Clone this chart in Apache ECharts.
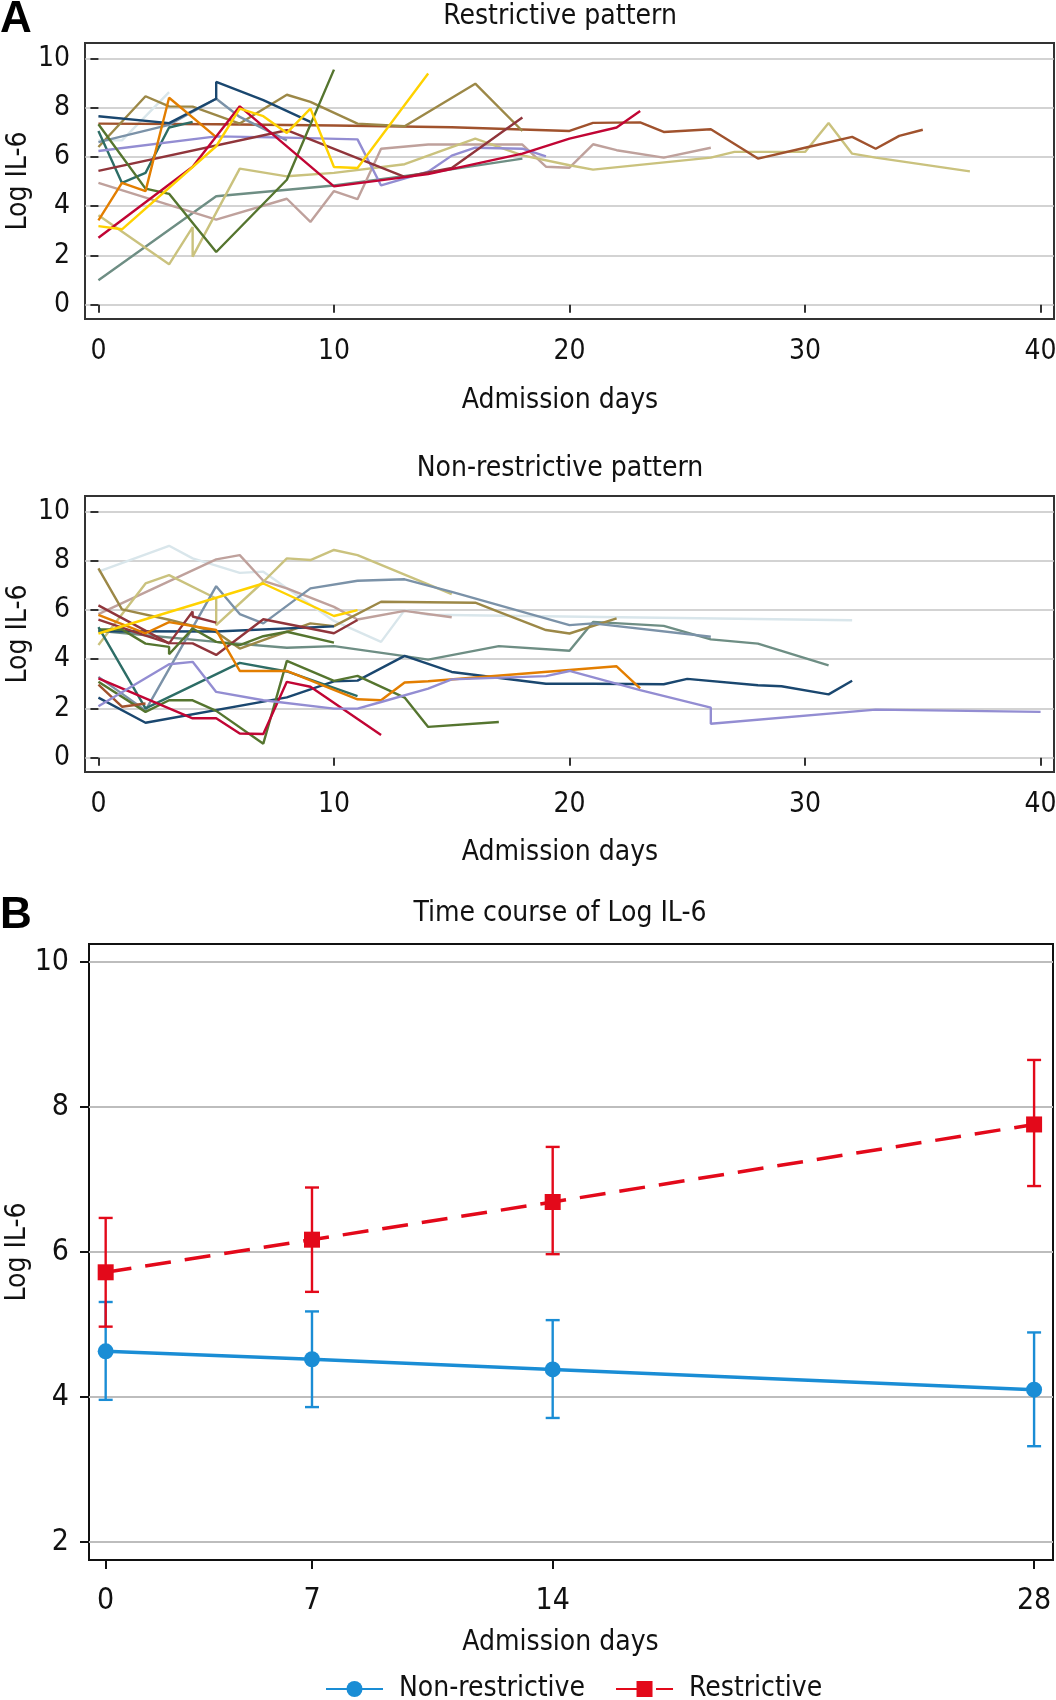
<!DOCTYPE html>
<html>
<head>
<meta charset="utf-8">
<script src="https://cdn.jsdelivr.net/npm/echarts@6/dist/echarts.min.js"></script>
<style>
html,body{margin:0;padding:0;background:#ffffff;}
#chart{width:1056px;height:1700px;}
</style>
</head>
<body>
<div id="chart"></div>
<script>
// ---------- tick labels ----------
const spaghettiDayTicks = [0, 10, 20, 30, 40];
const logTicksA = [0, 2, 4, 6, 8, 10];
const logTicksB = [2, 4, 6, 8, 10];
const visitDays = [1, 7, 14, 28];            // day at which each visit is plotted
const visitLabels = ['0', '7', '14', '28'];  // label shown for each visit

// ---------- Panel A: restrictive pattern, [admission day, log IL-6] ----------
const rNavy = [[0,7.65],[3,7.37],[5,8.36],[5,9.04],[7,8.3],[9,7.42]];
const rEmidblue = [[0,6.6],[3,7.3],[5,8.36],[6,7.62],[8,6.67]];
const rBrown = [[0,6.4],[2,8.46],[3,8.05],[4,8.04],[6,7.35],[8,8.52],[9,8.23],[11,7.35],[13,7.24],[16,8.97],[18,7.05]];
const rBluishgray = [[0,6.67],[1,6.67],[3,8.63]];
const rEmerald = [[0,7.05],[1,4.94],[2,5.35],[3,7.19],[4,7.42]];
const rOrange = [[0,3.42],[1,4.94],[2,4.61],[3,8.4],[5,6.8]];
const rSienna = [[0,7.35],[5,7.32],[10,7.27],[15,7.2],[20,7.05],[21,7.38],[23,7.4],[24,7.01],[26,7.12],[28,5.93],[30,6.37],[32,6.81],[33,6.33],[34,6.85],[35,7.1]];
const rLavender = [[0,6.24],[5,6.83],[8,6.78],[11,6.71],[12,4.84],[14,5.4],[15,6.05],[16,6.37],[18,6.33],[19,6.02]];
const rMaroon = [[0,5.43],[8,7.08],[13,5.19],[15,5.55],[18,7.6]];
const rCranberry = [[0,2.72],[4,5.6],[6,8.05],[10,4.8],[14,5.3],[18,6.13],[20,6.74],[22,7.19],[23,7.86]];
const rGold = [[0,3.19],[1,3.06],[5,6.43],[6,7.96],[7,7.65],[8,6.97],[9,7.96],[10,5.59],[11,5.55],[14,9.38]];
const rForest = [[0,7.32],[2,4.71],[3,4.5],[5,2.14],[8,5.07],[10,9.54]];
const rKhaki = [[0,3.63],[3,1.64],[4,3.15],[4,1.95],[6,5.52],[8,5.21],[10,5.35],[13,5.7],[16,6.74],[18,6.06],[20,5.66],[21,5.48],[26,5.97],[27,6.2],[30,6.2],[31,7.37],[32,6.13],[33,5.97],[37,5.41]];
const rErose = [[0,4.94],[5,3.45],[8,4.3],[9,3.36],[10,4.61],[11,4.28],[12,6.33],[14,6.5],[18,6.5],[19,5.6],[20,5.56],[21,6.51],[22,6.27],[24,5.97],[26,6.37]];
const rTeal = [[0,0.99],[5,4.4],[10,4.84],[14,5.35],[18,5.93]];

// ---------- Panel A: non-restrictive pattern ----------
const nBluishgray = [[0,7.55],[3,8.6],[4,8.09],[6,7.5],[7,7.55],[10,5.55],[12,4.7],[13,5.99],[14,5.8],[32,5.58]];
const nErose = [[0,5.83],[5,8.05],[6,8.22],[7,7.18],[8,6.87],[10,6.12],[11,5.61],[13,5.96],[15,5.7]];
const nKhaki = [[0,4.57],[2,7.07],[3,7.41],[5,6.46],[5,5.38],[7,7.14],[8,8.09],[9,8.02],[10,8.43],[11,8.22],[15,6.64]];
const nBrown = [[0,7.68],[1,6.02],[3,5.6],[5,5.1],[6,4.43],[7,4.77],[9,5.45],[10,5.34],[12,6.33],[16,6.29],[17,5.92],[19,5.18],[20,5.04],[22,5.65]];
const nGold = [[0,5.04],[7,7.07],[10,5.75],[11,5.99]];
const nEmidblue = [[0,3.28],[2,1.92],[5,6.96],[6,5.83],[7,5.45],[9,6.87],[11,7.18],[13,7.24],[15,6.73],[20,5.38],[21,5.45],[26,4.91]];
const nMaroon1 = [[0,6.18],[3,4.64],[4,5.93],[4,5.73],[5,5.48]];
const nMaroon2 = [[0,5.6],[2,4.95],[3,4.65],[4,4.64],[5,4.17],[7,5.62],[10,5.05],[11,5.59]];
const nNavy1 = [[0,5.13],[5,5.12],[10,5.33]];
const nNavy2 = [[0,2.44],[2,1.42],[8,2.45],[10,3.1],[11,3.13],[13,4.13],[15,3.48],[19,3.0],[21,3.0],[24,2.98],[25,3.2],[28,2.94],[29,2.9],[31,2.57],[32,3.12]];
const nForest1 = [[0,3.08],[2,1.86],[3,2.33],[4,2.33],[5,1.9],[7,0.57],[8,3.93],[10,3.12],[11,3.32],[13,2.44],[14,1.25],[17,1.45]];
const nForest2 = [[0,5.2],[1,5.2],[2,4.63],[3,4.5],[3,4.2],[4,5.24],[5,4.7],[6,4.57],[7,4.93],[8,5.11],[10,4.67]];
const nEmerald = [[0,5.3],[2,2.0],[6,3.85],[8,3.5],[11,2.5]];
const nOrange = [[0,5.8],[2,5.05],[3,5.5],[5,5.18],[6,3.52],[8,3.52],[11,2.37],[12,2.33],[13,3.05],[14,3.1],[22,3.71],[23,2.81]];
const nSienna = [[0,2.97],[1,2.07],[2,2.2]];
const nCranberry = [[0,3.22],[2,2.41],[4,1.6],[5,1.6],[6,0.98],[7,0.96],[8,3.08],[9,2.88],[12,0.92]];
const nLavender = [[0,2.09],[3,3.79],[4,3.89],[5,2.67],[7,2.33],[10,1.99],[11,1.99],[12,2.26],[14,2.8],[15,3.18],[19,3.31],[20,3.52],[23,2.74],[26,2.03],[26,1.38],[33,1.95],[40,1.86]];
const nTeal = [[0,5.15],[5,4.7],[8,4.46],[10,4.53],[13,4.12],[14,3.98],[17,4.53],[20,4.34],[21,5.51],[24,5.35],[26,4.8],[28,4.63],[31,3.75]];

// ---------- Panel B: time course (mean and 95% CI) ----------
const nonRestMean = [4.63, 4.52, 4.38, 4.10];
const nonRestLow  = [3.96, 3.86, 3.71, 3.32];
const nonRestHigh = [5.31, 5.18, 5.06, 4.89];
const restMean = [5.72, 6.17, 6.69, 7.76];
const restLow  = [4.97, 5.45, 5.97, 6.91];
const restHigh = [6.47, 6.89, 7.45, 8.65];

// ---------- styles ----------
const palette = {
  navy:'#1a476f', maroon:'#90353b', forest:'#55752f', dkorange:'#e37e00', teal:'#6e8e84',
  cranberry:'#c10534', lavender:'#938dd2', khaki:'#cac27e', sienna:'#a0522d', emidblue:'#7b92a8',
  emerald:'#2d6d66', brown:'#9c8847', erose:'#bfa19c', gold:'#ffd200', bluishgray:'#d9e6eb'
};
const FONT = '"DejaVu Sans Condensed","Liberation Sans Narrow","DejaVu Sans",sans-serif';
const TXT = '#111111';
const BLUE = '#1a8dd5';
const RED = '#e3091a';

const restrictiveSet = [
  ['bluishgray', rBluishgray], ['teal', rTeal], ['erose', rErose], ['khaki', rKhaki],
  ['sienna', rSienna], ['brown', rBrown], ['emidblue', rEmidblue], ['navy', rNavy],
  ['emerald', rEmerald], ['lavender', rLavender], ['maroon', rMaroon], ['forest', rForest],
  ['dkorange', rOrange], ['cranberry', rCranberry], ['gold', rGold]
];
const nonRestrictiveSet = [
  ['bluishgray', nBluishgray], ['teal', nTeal], ['erose', nErose], ['khaki', nKhaki],
  ['brown', nBrown], ['emidblue', nEmidblue], ['navy', nNavy1], ['navy', nNavy2],
  ['maroon', nMaroon1], ['maroon', nMaroon2], ['forest', nForest1], ['forest', nForest2],
  ['emerald', nEmerald], ['dkorange', nOrange], ['sienna', nSienna], ['cranberry', nCranberry],
  ['lavender', nLavender], ['gold', nGold]
];

function spaghetti(set, idx) {
  return set.map(([c, data]) => ({
    type: 'line', xAxisIndex: idx, yAxisIndex: idx, data: data,
    symbol: 'none', showSymbol: false, silent: true, z: 2,
    lineStyle: { width: 2.4, color: palette[c] }, itemStyle: { color: palette[c] }
  }));
}

function errorBars(lo, hi, color) {
  return {
    type: 'custom', xAxisIndex: 2, yAxisIndex: 2, silent: true, z: 3,
    data: visitDays.map((d, i) => [d, lo[i], hi[i]]),
    encode: { x: 0, y: [1, 2] },
    renderItem: function (params, api) {
      const x = api.value(0);
      const top = api.coord([x, api.value(2)]);
      const bot = api.coord([x, api.value(1)]);
      const hw = 7;
      const st = { stroke: color, lineWidth: 2.4 };
      return { type: 'group', children: [
        { type: 'line', shape: { x1: top[0], y1: top[1], x2: bot[0], y2: bot[1] }, style: st },
        { type: 'line', shape: { x1: top[0] - hw, y1: top[1], x2: top[0] + hw, y2: top[1] }, style: st },
        { type: 'line', shape: { x1: bot[0] - hw, y1: bot[1], x2: bot[0] + hw, y2: bot[1] }, style: st }
      ]};
    }
  };
}

function spaghettiX(idx, gap) {
  return {
    gridIndex: idx, type: 'value', min: -0.57, max: 40.57,
    axisLine: { show: false },
    axisTick: { show: true, inside: false, length: 8, lineStyle: { color: '#333', width: 2 }, customValues: spaghettiDayTicks },
    axisLabel: { customValues: spaghettiDayTicks, fontSize: 28, fontFamily: FONT, color: TXT, margin: 19 },
    splitLine: { show: false },
    name: 'Admission days', nameLocation: 'middle', nameGap: gap, nameMoveOverlap: false,
    nameTextStyle: { fontSize: 28, fontFamily: FONT, color: TXT, padding: [0, 19, 0, 0] }
  };
}
function spaghettiY(idx) {
  return {
    gridIndex: idx, type: 'value', min: -0.58, max: 10.62,
    axisLine: { show: false },
    axisTick: { show: true, inside: false, length: 8, lineStyle: { color: '#333', width: 2 }, customValues: logTicksA },
    axisLabel: { customValues: logTicksA, fontSize: 28, fontFamily: FONT, color: TXT, margin: 15 },
    splitLine: { show: true, lineStyle: { color: '#c4c4c4', width: 1.6 } },
    name: 'Log IL-6', nameLocation: 'middle', nameGap: 52, nameMoveOverlap: false,
    nameTextStyle: { fontSize: 28, fontFamily: FONT, color: TXT }
  };
}

const option = {
  animation: false,
  backgroundColor: '#ffffff',
  textStyle: { fontFamily: FONT },
  graphic: [
    { type: 'text', x: 0, y: 20, style: { text: 'A', fontSize: 44, fontWeight: 'bold', fontFamily: '"Liberation Sans",Arial,sans-serif', fill: '#000', align: 'left', verticalAlign: 'middle' } },
    { type: 'text', x: 560, y: 17, style: { text: 'Restrictive pattern', fontSize: 28, fontFamily: FONT, fill: TXT, align: 'center', verticalAlign: 'middle' } },
    { type: 'text', x: 560, y: 469, style: { text: 'Non-restrictive pattern', fontSize: 28, fontFamily: FONT, fill: TXT, align: 'center', verticalAlign: 'middle' } },
    { type: 'text', x: 0, y: 916, style: { text: 'B', fontSize: 44, fontWeight: 'bold', fontFamily: '"Liberation Sans",Arial,sans-serif', fill: '#000', align: 'left', verticalAlign: 'middle' } },
    { type: 'text', x: 560, y: 914, style: { text: 'Time course of Log IL-6', fontSize: 28, fontFamily: FONT, fill: TXT, align: 'center', verticalAlign: 'middle' } }
  ],
  grid: [
    { left: 85, top: 43, width: 969, height: 276, show: true, borderColor: '#333', borderWidth: 2, backgroundColor: 'transparent', containLabel: false, outerBoundsMode: 'none' },
    { left: 85, top: 496, width: 969, height: 276, show: true, borderColor: '#333', borderWidth: 2, backgroundColor: 'transparent', containLabel: false, outerBoundsMode: 'none' },
    { left: 89, top: 944, width: 964, height: 616, show: true, borderColor: '#111', borderWidth: 2, backgroundColor: 'transparent', containLabel: false, outerBoundsMode: 'none' }
  ],
  xAxis: [
    spaghettiX(0, 68), spaghettiX(1, 67),
    {
      gridIndex: 2, type: 'value', min: 0.515, max: 28.55,
      axisLine: { show: false },
      axisTick: { show: true, inside: false, length: 9, lineStyle: { color: '#111', width: 2 }, customValues: visitDays },
      axisLabel: { customValues: visitDays, fontSize: 30, fontFamily: FONT, color: TXT, margin: 26,
        formatter: v => visitLabels[visitDays.indexOf(v)] },
      splitLine: { show: false },
      name: 'Admission days', nameLocation: 'middle', nameGap: 69, nameMoveOverlap: false,
      nameTextStyle: { fontSize: 28, fontFamily: FONT, color: TXT, padding: [0, 21, 0, 0] }
    }
  ],
  yAxis: [
    spaghettiY(0), spaghettiY(1),
    {
      gridIndex: 2, type: 'value', min: 1.75, max: 10.25,
      axisLine: { show: false },
      axisTick: { show: true, inside: false, length: 9, lineStyle: { color: '#111', width: 2 }, customValues: logTicksB },
      axisLabel: { customValues: logTicksB, fontSize: 30, fontFamily: FONT, color: TXT, margin: 20 },
      splitLine: { show: true, lineStyle: { color: '#bdbdbd', width: 2.2 } },
      name: 'Log IL-6', nameLocation: 'middle', nameGap: 57, nameMoveOverlap: false,
      nameTextStyle: { fontSize: 28, fontFamily: FONT, color: TXT }
    }
  ],
  legend: {
    data: ['Non-restrictive', 'Restrictive'],
    left: 320, top: 1670, itemWidth: 57, itemHeight: 20, itemGap: 30,
    textStyle: { fontSize: 28, fontFamily: FONT, color: TXT, padding: [0, 0, 0, 11] }
  },
  series: [
    ...spaghetti(restrictiveSet, 0),
    ...spaghetti(nonRestrictiveSet, 1),
    errorBars(nonRestLow, nonRestHigh, BLUE),
    errorBars(restLow, restHigh, RED),
    {
      name: 'Non-restrictive', type: 'line', xAxisIndex: 2, yAxisIndex: 2, z: 4,
      data: visitDays.map((d, i) => [d, nonRestMean[i]]),
      symbol: 'circle', symbolSize: 16, showSymbol: true,
      lineStyle: { color: BLUE, width: 3.5 }, itemStyle: { color: BLUE }
    },
    {
      name: 'Restrictive', type: 'line', xAxisIndex: 2, yAxisIndex: 2, z: 4,
      data: visitDays.map((d, i) => [d, restMean[i]]),
      symbol: 'rect', symbolSize: 16, showSymbol: true,
      lineStyle: { color: RED, width: 3.5, type: [26, 14] }, itemStyle: { color: RED }
    }
  ]
};

const chart = echarts.init(document.getElementById('chart'), null, { renderer: 'canvas' });
chart.setOption(option);
</script>
</body>
</html>
